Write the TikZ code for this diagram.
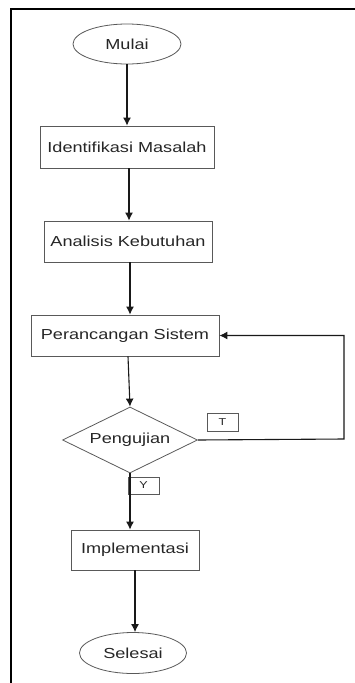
\documentclass[tikz,border=0pt]{standalone}
\usepackage{fontspec}
\setmainfont{Liberation Sans}[FakeStretch=1.25]
\usepackage{tikz}
\usetikzlibrary{shapes.geometric, arrows.meta}

\tikzset{
    proses/.style={draw=black!65, line width=0.8pt, rectangle, inner sep=0pt, text=black!85, font=\fontsize{14.5}{16}\selectfont},
    terminal/.style={draw=black!65, line width=0.8pt, ellipse, inner sep=0pt, text=black!85, font=\fontsize{14.5}{16}\selectfont},
    keputusan/.style={draw=black!65, line width=0.8pt, diamond, aspect=2, inner sep=0pt, text=black!85, font=\fontsize{14.5}{16}\selectfont},
    labelbox/.style={draw=black!65, line width=0.8pt, rectangle, inner sep=0pt, minimum width=31pt, minimum height=18pt, text=black!85, font=\fontsize{10}{12}\selectfont},
    panah/.style={-{Latex[length=8pt, width=8pt]}, line width=1.1pt, black!90}
}

\begin{document}
\begin{tikzpicture}[x=1pt, y=-1pt]
        \useasboundingbox (0,0) rectangle (355,683);

        % Frame (top and left edge only)
        \draw[line width=2pt] (355,9) -- (11,9) -- (11,683);

        % Terminals
        \node[terminal, minimum width=108pt, minimum height=40pt] (mulai) at (127,44) {Mulai};
        \node[terminal, minimum width=107pt, minimum height=41pt] (selesai) at (133,653) {Selesai};

        % Process steps
        \node[proses, minimum width=174pt, minimum height=42pt] (identifikasi) at (127,147) {Identifikasi Masalah};
        \node[proses, minimum width=168pt, minimum height=41pt] (analisis) at (128,241.5) {Analisis Kebutuhan};
        \node[proses, minimum width=188pt, minimum height=41pt] (perancangan) at (125,335.5) {Perancangan Sistem};
        \node[proses, minimum width=128pt, minimum height=40pt] (implementasi) at (135,550) {Implementasi};

        % Decision
        \node[keputusan, minimum width=135pt, minimum height=66pt] (pengujian) at (130,440) {Pengujian};

        % Labels T and Y
        \node[labelbox] (labelT) at (222.5,422) {T};
        \node[labelbox, minimum height=17pt] (labelY) at (143.5,485.5) {Y};

        % Main flow
        \draw[panah] (mulai.south) -- (mulai.south |- identifikasi.north);
        \draw[panah] (129,168) -- (analisis.north -| 129,0);
        \draw[panah] (analisis.south -| 130,0) -- (perancangan.north -| 130,0);
        \draw[panah] (perancangan.south -| 128,0) -- (pengujian.north);
        \draw[panah] (pengujian.south) -- (pengujian.south |- implementasi.north);
        \draw[panah] (implementasi.south) -- (implementasi.south |- selesai.north);

        % Loop back when the test fails
        \coordinate (balik) at (344,439);
        \draw[panah] (pengujian.east) -- (balik) |- (perancangan.east);
    \end{tikzpicture}
\end{document}
